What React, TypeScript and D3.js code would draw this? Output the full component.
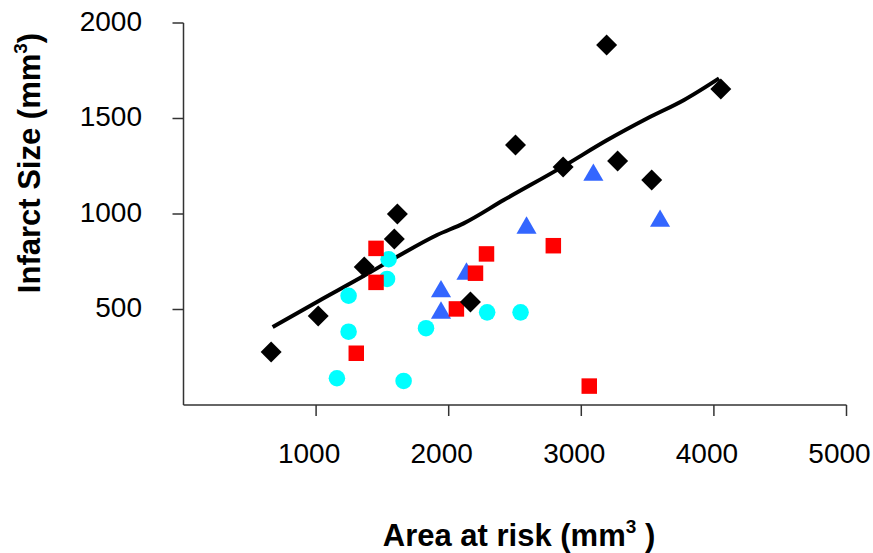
import React from "react";
import * as d3 from "d3";

const W = 873;
const H = 553;

const xTicks = [1000, 2000, 3000, 4000, 5000];
const yTicks = [500, 1000, 1500, 2000];

// Black diamonds
const diamondX = [661, 1016, 1363, 1590, 1613, 2164, 2504, 2863, 3191, 3274, 3531, 4052];
const diamondY = [277, 466, 722, 869, 1000, 539, 1361, 1246, 1885, 1277, 1178, 1654];

// Red squares
const squareX = [1452, 1452, 1303, 2058, 2202, 2285, 2789, 3060];
const squareY = [820, 642, 271, 503, 690, 791, 834, 99];

// Cyan circles
const circleX = [1547, 1535, 1245, 1245, 1157, 1660, 1829, 2290, 2542];
const circleY = [763, 660, 572, 384, 140, 126, 402, 485, 485];

// Blue triangles
const triX = [1942, 1942, 2134, 2587, 3091, 3594];
const triY = [594, 482, 686, 927, 1204, 963];

// Fitted line
const lineX = [672, 1023, 1358, 1610, 1912, 2113, 2415, 2861, 3196, 3499, 3775, 4039];
const lineY = [408, 546, 675, 776, 890, 951, 1073, 1248, 1387, 1501, 1597, 1710];

export default function App() {
  const x = d3.scaleLinear().domain([0, 5000]).range([183.5, 846.5]);
  const y = d3.scaleLinear().domain([0, 2000]).range([405, 23]);
  const axisColor = "#333";
  const font = "'Liberation Sans', Arial, sans-serif";

  const line = d3
    .line<number>()
    .x((_, i) => x(lineX[i]))
    .y((d) => y(d))
    .curve(d3.curveMonotoneX);

  const diamond = d3.symbol().type(d3.symbolSquare).size(220)();
  const square = d3.symbol().type(d3.symbolSquare).size(240)();
  const circle = d3.symbol().type(d3.symbolCircle).size(215)();
  const tri = d3.symbol().type(d3.symbolTriangle).size(175)();

  return (
    <svg
      width={W}
      height={H}
      style={{ position: "absolute", left: 0, top: 0, background: "#fff" }}
      fontFamily={font}
    >
      {/* axes */}
      <line x1={x(0)} x2={x(0)} y1={y(2000)} y2={y(0)} stroke={axisColor} strokeWidth={1.5} />
      <line x1={x(0)} x2={x(5000)} y1={y(0)} y2={y(0)} stroke={axisColor} strokeWidth={1.5} />
      {yTicks.map((t) => (
        <g key={"y" + t}>
          <line x1={x(0) - 11} x2={x(0)} y1={y(t)} y2={y(t)} stroke={axisColor} strokeWidth={1.5} />
          <text x={142} y={y(t) - 2} dy="0.35em" textAnchor="end" fontSize={28} fill="#000">
            {t}
          </text>
        </g>
      ))}
      {xTicks.map((t) => (
        <g key={"x" + t}>
          <line x1={x(t)} x2={x(t)} y1={y(0)} y2={y(0) + 11} stroke={axisColor} strokeWidth={1.5} />
          <text x={x(t) - 7} y={453} dy="0.35em" textAnchor="middle" fontSize={28} fill="#000">
            {t}
          </text>
        </g>
      ))}

      {/* titles */}
      <text x={519} y={546} textAnchor="middle" fontSize={31} fontWeight="bold" fill="#000">
        Area at risk (mm
        <tspan fontSize={19} dy={-13}>3</tspan>
        <tspan dy={13}> )</tspan>
      </text>
      <text
        transform={`translate(40, 163) rotate(-90)`}
        textAnchor="middle"
        fontSize={31}
        fontWeight="bold"
        fill="#000"
      >
        Infarct Size (mm
        <tspan fontSize={19} dy={-13}>3</tspan>
        <tspan dy={13}>)</tspan>
      </text>

      {/* fitted line */}
      <path d={line(lineY) || ""} fill="none" stroke="#000" strokeWidth={4} />

      {/* markers */}
      {circleX.map((v, i) => (
        <path key={"c" + i} d={circle || ""} transform={`translate(${x(v)},${y(circleY[i])})`} fill="#00FFFF" />
      ))}
      {triX.map((v, i) => (
        <path key={"t" + i} d={tri || ""} transform={`translate(${x(v)},${y(triY[i])})`} fill="#3366FF" />
      ))}
      {squareX.map((v, i) => (
        <path key={"s" + i} d={square || ""} transform={`translate(${x(v)},${y(squareY[i])})`} fill="#FF0000" />
      ))}
      {diamondX.map((v, i) => (
        <path
          key={"d" + i}
          d={diamond || ""}
          transform={`translate(${x(v)},${y(diamondY[i])}) rotate(45)`}
          fill="#000"
        />
      ))}
    </svg>
  );
}
